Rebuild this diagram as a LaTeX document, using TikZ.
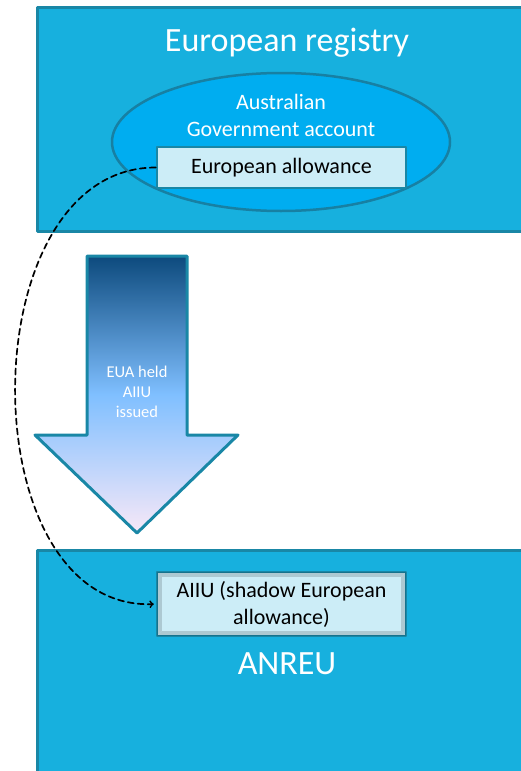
\documentclass[tikz,border=0pt]{standalone}
\usepackage{fontspec}
\setmainfont{Carlito}
\usepackage{tikz}
\usetikzlibrary{arrows,calc}
\definecolor{regfill}{rgb}{0.09,0.69,0.87}
\definecolor{regedge}{rgb}{0.10,0.53,0.65}
\definecolor{acctfill}{rgb}{0,0.68,0.94}
\definecolor{acctedge}{rgb}{0.09,0.50,0.64}
\definecolor{unitfill}{rgb}{0.80,0.93,0.97}
\definecolor{arrowtop}{rgb}{0.05,0.29,0.49}
\definecolor{arrowmid}{rgb}{0.50,0.75,1}
\definecolor{arrowbot}{rgb}{0.97,0.91,0.97}
\pgfdeclareverticalshading{flowshade}{100bp}{color(0bp)=(arrowbot); color(25bp)=(arrowbot);
  color(50bp)=(arrowmid); color(75bp)=(arrowtop); color(100bp)=(arrowtop)}

\begin{document}
\begin{tikzpicture}[line cap=round,line join=round,>=to,x=1pt,y=-1pt,
    bigtitle/.style={text=white,font=\fontsize{34}{40}\selectfont},
    smalltitle/.style={text=white,align=center,font=\fontsize{22}{27}\selectfont},
    unitbox/.style={draw=regedge,fill=unitfill,line width=2.5pt,minimum width=249pt,
      align=center,font=\fontsize{22}{27}\selectfont,inner sep=0pt}]
      \useasboundingbox (0,0) rectangle (521,771);
      \clip (0,0) rectangle (521,771);
      % European registry
      \draw[draw=regedge,fill=regfill,line width=3pt] (37,7) rectangle (560,231);
      \node[bigtitle] (regtitle) at (287,43) {European registry};
      \draw[draw=acctedge,fill=acctfill,line width=2.5pt] (281,142) ellipse (169 and 69);
      \node[smalltitle] (acct) at (281,115) {Australian\\Government account};
      \node[unitbox,minimum height=41pt] (eua) at (281.5,167.5) {European allowance};
      % ANREU
      \draw[draw=regedge,fill=regfill,line width=3pt] (37,550) rectangle (560,800);
      \node[unitbox,minimum height=64pt] (aiiu) at (281.5,604) {AIIU (shadow European\\allowance)};
      \foreach \i in {2,...,6}
      \draw[black,opacity=0.15,line width=1pt] ($(aiiu.north west)+(\i,\i)$) rectangle ($(aiiu.south east)+(-\i,-\i)$);
      \node[bigtitle] (anreu) at (287,664) {ANREU};
      % transfer arrow
      \shadedraw[draw=regedge,line width=3pt,shading=flowshade]
        (87,256) -- (187,256) -- (187,435) -- (238,435) -- (137,533) -- (35,435) -- (87,435) -- cycle;
      \node[text=white,align=center,font=\fontsize{16.5}{20}\selectfont] (flow) at (137,392) {EUA held\\AIIU\\issued};
      % link
      \draw[->,dash pattern=on 6pt off 4pt,line width=1.7pt,shorten >=2pt] (eua.west)
        .. controls ($(eua.west)+(-187,0)$) and ($(aiiu.west)+(-187,7)$) .. (aiiu.west);
\end{tikzpicture}
\end{document}
